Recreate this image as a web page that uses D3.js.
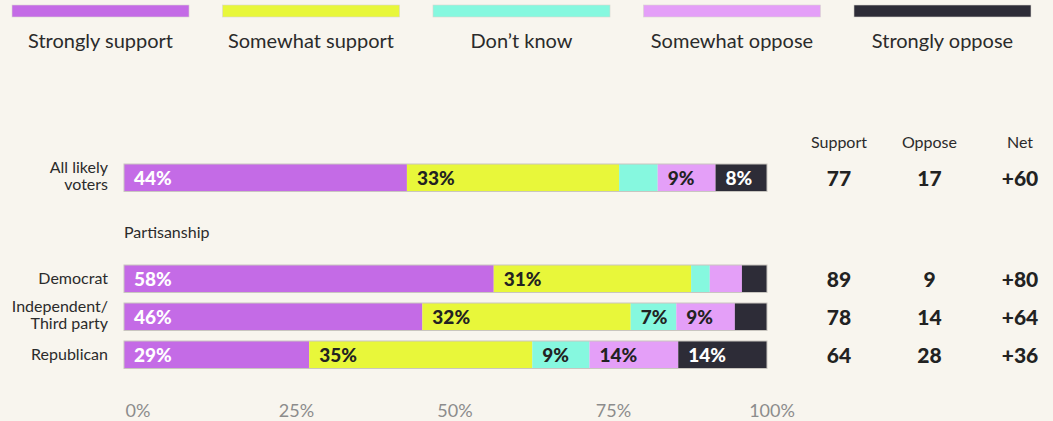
<!DOCTYPE html>
<html>
<head>
<meta charset="utf-8">
<script src="https://cdn.jsdelivr.net/npm/d3@7"></script>
<style>
	html, body { margin: 0; padding: 0; background: #f8f5ee; }
	svg { display: block; font-family: Lato, "Open Sans", sans-serif; }
</style>
</head>
<body>
<script>
const answers = ['Strongly support', 'Somewhat support', 'Don\u2019t know', 'Somewhat oppose', 'Strongly oppose'];
const answerColors = ['#c46be6', '#e8f73a', '#86f8df', '#e49ff8', '#2d2c37'];
const labelColors = ['#fff', '#222', '#222', '#222', '#fff'];

const rowNames = ['All likely voters', 'Democrat', 'Independent/Third party', 'Republican'];
const rowLines = [['All likely', 'voters'], ['Democrat'], ['Independent/', 'Third party'], ['Republican']];
const rowGroups = ['all', 'party', 'party', 'party'];

// shares, per answer
const strongSupport = [44, 57.5, 46.4, 28.8];
const someSupport = [33, 30.7, 32.4, 34.7];
const dontKnow = [6, 2.9, 7.1, 8.9];
const someOppose = [9, 5.0, 9.1, 13.8];
const strongOppose = [8, 3.9, 5.0, 13.8];

const supportTotals = [77, 89, 78, 64];
const opposeTotals = [17, 9, 14, 28];
const netValues = ['+60', '+80', '+64', '+36'];

const summaryHeads = ['Support', 'Oppose', 'Net'];
const axisTicks = [0, 25, 50, 75, 100];
const groupHeading = 'Partisanship';

document.addEventListener('DOMContentLoaded', () => {
	const width = 1053, height = 421;
	const svg = d3.select('body').append('svg')
		.attr('width', width)
		.attr('height', height);

	svg.append('rect')
		.attr('width', width).attr('height', height)
		.attr('fill', '#f8f5ee');

	let series = [strongSupport, someSupport, dontKnow, someOppose, strongOppose];
	let rows = rowNames.map((name, i) => {
		let x0 = 0;
		let segs = series.map((s, k) => {
			let seg = { key: answers[k], k: k, v: s[i], x0: x0, x1: x0 + s[i] };
			x0 += s[i];
			return seg;
		});
		return { name: name, lines: rowLines[i], group: rowGroups[i], segs: segs,
			summary: [supportTotals[i], opposeTotals[i], netValues[i]] };
	});

	let x = d3.scaleLinear().domain([0, 100]).range([124, 767]);
	let y = d3.scaleBand().domain(rowNames).range([164, 316]).paddingInner(0.276).paddingOuter(0.138);
	let groupGap = 63;
	let rowY = d => y(d.name) - y.step() * y.paddingOuter() + (d.group === 'party' ? groupGap : 0);
	let bh = y.bandwidth();

	// legend
	let legendX = d3.scaleBand().domain(answers).range([12, 1031]).paddingInner(0.159);
	let legend = svg.append('g').selectAll('g').data(answers).join('g');
	legend.append('rect')
		.attr('x', d => legendX(d))
		.attr('y', 5)
		.attr('width', legendX.bandwidth())
		.attr('height', 12)
		.attr('fill', (d, i) => answerColors[i])
		.attr('stroke', '#d9d6cf')
		.attr('stroke-width', 0.6);
	legend.append('text')
		.attr('x', d => legendX(d) + legendX.bandwidth() / 2)
		.attr('y', 48)
		.attr('text-anchor', 'middle')
		.attr('font-size', 20)
		.attr('fill', '#2b2b2b')
		.text(d => d);

	// bars
	let row = svg.append('g').selectAll('g').data(rows).join('g')
		.attr('transform', d => `translate(0,${rowY(d)})`);

	row.selectAll('rect.seg').data(d => d.segs).join('rect')
		.attr('class', 'seg')
		.attr('x', d => x(d.x0))
		.attr('width', d => x(d.x1) - x(d.x0))
		.attr('height', bh)
		.attr('fill', d => answerColors[d.k]);

	row.append('rect')
		.attr('x', x(0))
		.attr('width', x(100) - x(0))
		.attr('height', bh)
		.attr('fill', 'none')
		.attr('stroke', '#c9c6c0')
		.attr('stroke-width', 1);

	row.selectAll('text.val').data(d => d.segs.filter(s => s.v >= 7)).join('text')
		.attr('class', 'val')
		.attr('x', d => x(d.x0) + 10)
		.attr('y', bh / 2)
		.attr('dy', '0.36em')
		.attr('font-size', 19)
		.attr('font-weight', 900)
		.attr('fill', d => labelColors[d.k])
		.text(d => Math.round(d.v) + '%');

	// row labels
	row.append('text')
		.attr('text-anchor', 'end')
		.attr('font-size', 16)
		.attr('fill', '#2b2b2b')
		.selectAll('tspan').data(d => d.lines).join('tspan')
		.attr('x', 108)
		.attr('y', (d, i, n) => bh / 2 + (n.length === 1 ? 5 : (i === 0 ? -5 : 12)))
		.text(d => d);

	// summary columns
	let colX = d3.scalePoint().domain(summaryHeads).range([839, 1020]);
	svg.append('g').selectAll('text').data(summaryHeads).join('text')
		.attr('x', d => colX(d))
		.attr('y', 148)
		.attr('text-anchor', 'middle')
		.attr('font-size', 16)
		.attr('fill', '#2b2b2b')
		.text(d => d);

	row.selectAll('text.sum').data(d => d.summary).join('text')
		.attr('class', 'sum')
		.attr('x', (d, i) => colX(summaryHeads[i]))
		.attr('y', bh / 2)
		.attr('dy', '0.37em')
		.attr('text-anchor', 'middle')
		.attr('font-size', 21)
		.attr('font-weight', 900)
		.attr('fill', '#222')
		.text(d => d);

	// group heading
	let firstParty = rows.find(r => r.group === 'party');
	svg.append('text')
		.attr('x', x(0))
		.attr('y', rowY(firstParty) - 27)
		.attr('font-size', 16)
		.attr('fill', '#2b2b2b')
		.text(groupHeading);

	// axis labels (sit slightly right of the bar scale in the original)
	let xAxisScale = x.copy().range([x(0) + 14, x(100) + 5]);
	svg.append('g')
		.attr('transform', 'translate(0,417)')
		.selectAll('text').data(axisTicks).join('text')
		.attr('x', d => xAxisScale(d))
		.attr('text-anchor', 'middle')
		.attr('font-size', 18)
		.attr('fill', '#8c8c8c')
		.text(d => d + '%');
});
</script>
</body>
</html>
